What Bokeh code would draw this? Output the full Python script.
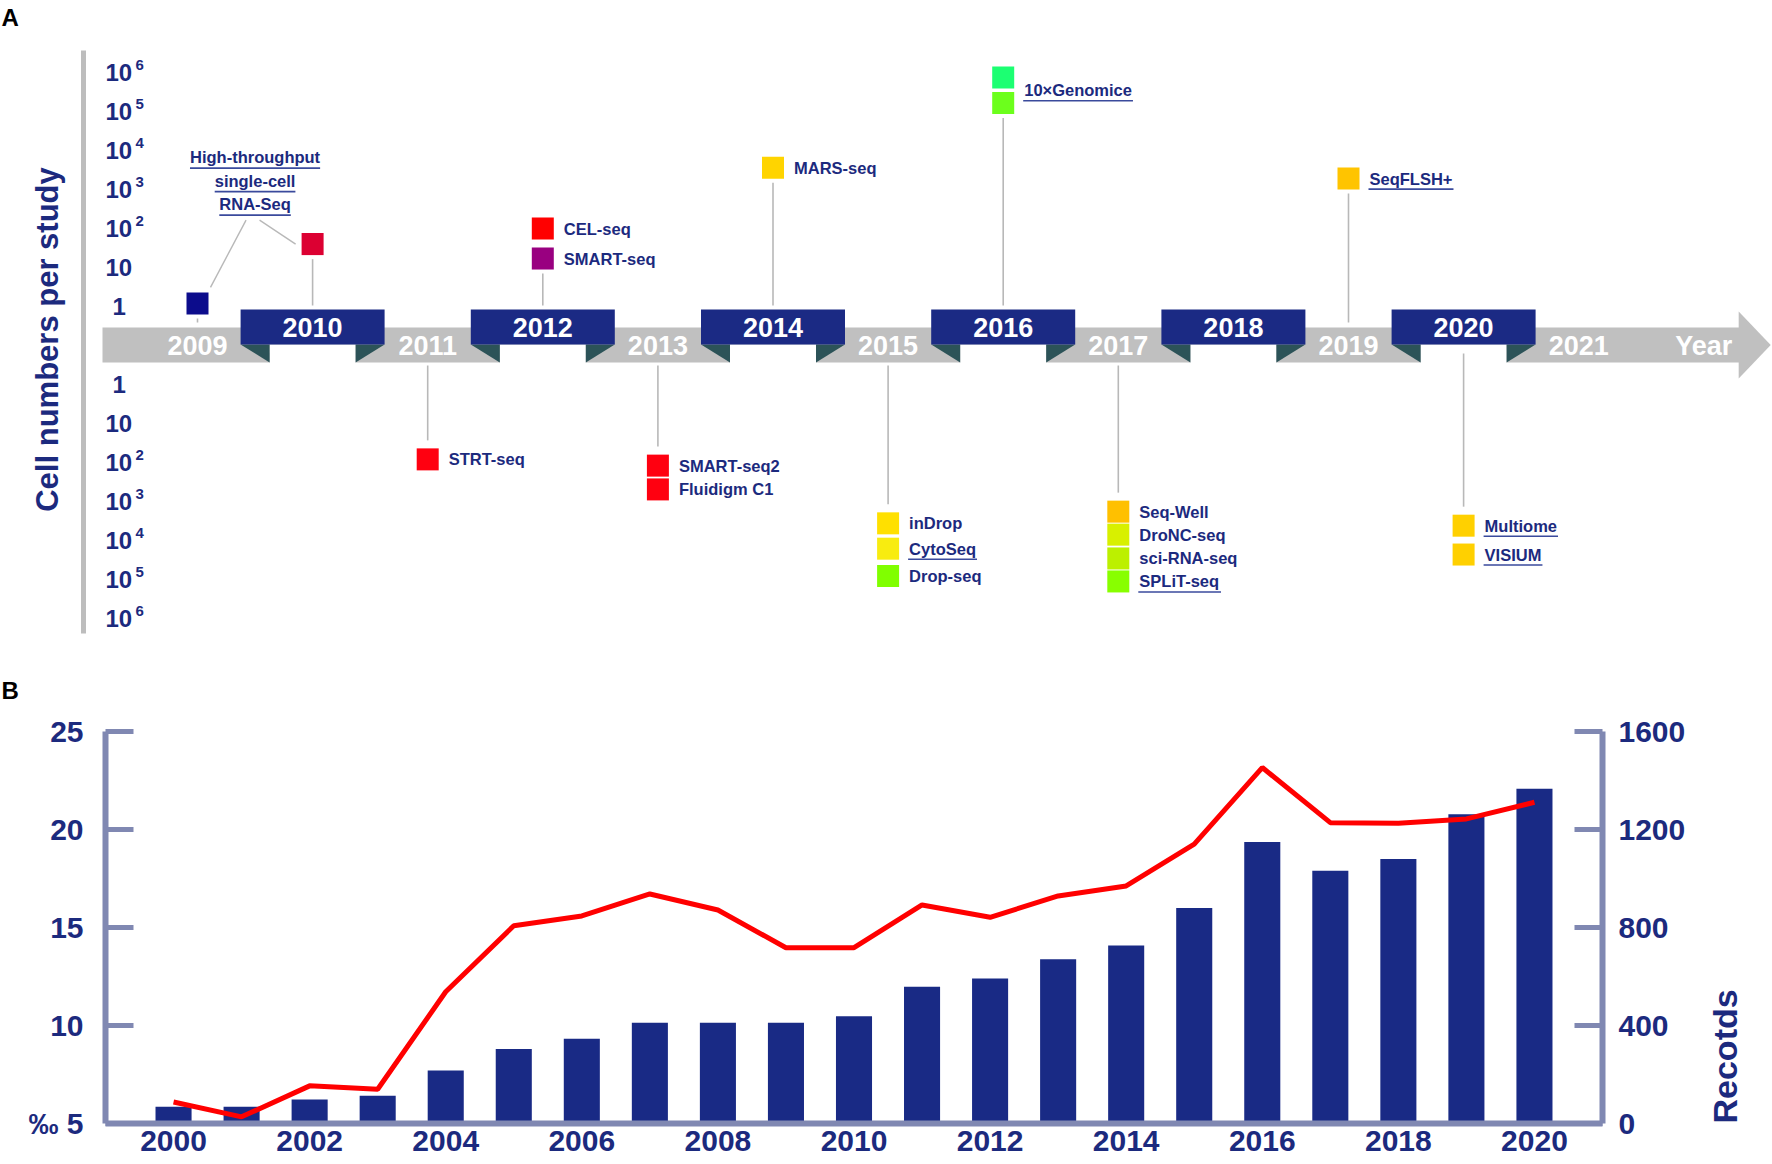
import math
from bokeh.plotting import figure
from bokeh.models import Range1d, LinearAxis, FixedTicker
from bokeh.embed import file_html
from bokeh.resources import INLINE
from bokeh.core.properties import value

# ---------------- Panel A data ----------------
timeline_years = [2009, 2010, 2011, 2012, 2013, 2014, 2015, 2016, 2017, 2018, 2019, 2020, 2021]
ribbon_years = [2010, 2012, 2014, 2016, 2018, 2020]
band_years = [2009, 2011, 2013, 2015, 2017, 2019, 2021]

method_year = [2009, 2010, 2012, 2012, 2014, 2016, 2016, 2019,
               2011, 2013, 2013, 2015, 2015, 2015, 2017, 2017, 2017, 2017, 2020, 2020]
method_side = [1, 1, 1, 1, 1, 1, 1, 1,
               -1, -1, -1, -1, -1, -1, -1, -1, -1, -1, -1, -1]
method_log_cells = [0.08, 1.6, 2.0, 1.23, 3.56, 5.87, 5.22, 3.28,
                    1.92, 2.08, 2.69, 3.56, 4.21, 4.91, 3.26, 3.85, 4.46, 5.05, 3.62, 4.36]
method_name = ["", "", "CEL-seq", "SMART-seq", "MARS-seq", "10×Genomice", "10×Genomice", "SeqFLSH+",
               "STRT-seq", "SMART-seq2", "Fluidigm C1", "inDrop", "CytoSeq", "Drop-seq",
               "Seq-Well", "DroNC-seq", "sci-RNA-seq", "SPLiT-seq", "Multiome", "VISIUM"]
method_underlined = [False, False, False, False, False, True, True, True,
                     False, False, False, False, True, False, False, False, False, True, True, True]
method_color = ["#0c0c8c", "#dc0032", "#ff0000", "#990080", "#ffd400", "#1cff72", "#6cff1c", "#ffc400",
                "#ff0010", "#ff0010", "#ff0010", "#ffe000", "#f8ec10", "#80ff00",
                "#ffc000", "#d8f000", "#bcf000", "#88ff00", "#ffd000", "#ffd000"]
callout_lines = ["High-throughput", "single-cell", "RNA-Seq"]
decade_ticks = [0, 1, 2, 3, 4, 5, 6]

# ---------------- Panel B data ----------------
year_b = [2000, 2001, 2002, 2003, 2004, 2005, 2006, 2007, 2008, 2009, 2010,
          2011, 2012, 2013, 2014, 2015, 2016, 2017, 2018, 2019, 2020]
records = [68, 68, 98, 113, 216, 304, 346, 411, 411, 411, 438,
           558, 592, 670, 727, 880, 1149, 1032, 1080, 1262, 1366]
permille = [6.1, 5.34, 6.92, 6.75, 11.72, 15.09, 15.59, 16.71, 15.89, 13.97, 13.97,
            16.15, 15.52, 16.61, 17.12, 19.25, 23.16, 20.35, 20.32, 20.54, 21.39]
b_year_ticks = [2000, 2002, 2004, 2006, 2008, 2010, 2012, 2014, 2016, 2018, 2020]
left_ticks = [5, 10, 15, 20, 25]
right_ticks = [0, 400, 800, 1200, 1600]
right_title = "Recotds"

# ---------------- styles ----------------
FONT = "Liberation Sans"
NAVY = "#1c2a7e"
RIBBON = "#1b2a84"
FOLD = "#2c5358"
BAND = "#c0c0c0"
STEM = "#b8b8b8"
AXIS_C = "#8088b2"
ULINE = "#3a4a9c"

AW = {'A': .722, 'B': .722, 'C': .722, 'D': .722, 'E': .667, 'F': .611, 'G': .778, 'H': .722, 'I': .278,
      'J': .556, 'K': .722, 'L': .611, 'M': .833, 'N': .722, 'O': .778, 'P': .667, 'Q': .778, 'R': .722,
      'S': .667, 'T': .611, 'U': .722, 'V': .667, 'W': .944, 'X': .667, 'Y': .667, 'Z': .611,
      'a': .556, 'b': .611, 'c': .556, 'd': .611, 'e': .556, 'f': .333, 'g': .611, 'h': .611, 'i': .278,
      'j': .278, 'k': .556, 'l': .278, 'm': .889, 'n': .611, 'o': .611, 'p': .611, 'q': .611, 'r': .389,
      's': .556, 't': .333, 'u': .611, 'v': .556, 'w': .778, 'x': .556, 'y': .556, 'z': .5,
      '-': .333, '+': .584, '×': .584, ' ': .278}


def text_width(s, size):
    return sum(AW.get(c, .556) for c in s) * size


FIG_W = 1772
HA = 712
HB = 452

# ---------------- Panel A ----------------
PX_YEAR = 115.1
PX_DEC = 39.0
ORIGIN_X = 197.0   # pixel column of the first timeline year
AXIS_Y = 345.0     # pixel row of the timeline centre
x_start = timeline_years[0] - ORIGIN_X / PX_YEAR
x_end = x_start + FIG_W / PX_YEAR
y_top = AXIS_Y / PX_DEC
y_bot = y_top - HA / PX_DEC


def hx(px):
    return px / PX_YEAR


def vy(px):
    return px / PX_DEC


pA = figure(width=FIG_W, height=HA, x_range=Range1d(x_start, x_end), y_range=Range1d(y_bot, y_top),
            output_backend="svg", toolbar_location=None, x_axis_location=None, y_axis_location=None,
            min_border=0, outline_line_color=None, background_fill_color="white")
pA.xgrid.visible = False
pA.ygrid.visible = False

# left vertical gray bar
pA.segment(x0=[x_start + hx(83)], y0=[vy(295)], x1=[x_start + hx(83)], y1=[-vy(288)],
           line_color="#bdbdbd", line_width=5)

# timeline band + arrow head
band_left = timeline_years[0] - hx(95)
band_right = timeline_years[-1] + hx(162)
pA.quad(left=[band_left], right=[band_right], top=[vy(18)], bottom=[-vy(17)], fill_color=BAND, line_color=None)
pA.patch(x=[band_right - hx(2), band_right + hx(30), band_right - hx(2)],
         y=[vy(34), vy(0.5), -vy(33)], fill_color=BAND, line_color=None)

# ribbons
pA.quad(left=[y - hx(43) for y in ribbon_years], right=[y + hx(43) for y in ribbon_years],
        top=[vy(1)] * len(ribbon_years), bottom=[-vy(18)] * len(ribbon_years),
        fill_color="white", line_color=None)
fold_xs, fold_ys = [], []
for y in ribbon_years:
    fold_xs.append([y - hx(72), y - hx(43), y - hx(43)])
    fold_ys.append([vy(1), vy(1), -vy(17)])
    fold_xs.append([y + hx(72), y + hx(43), y + hx(43)])
    fold_ys.append([vy(1), vy(1), -vy(17)])
pA.patches(xs=fold_xs, ys=fold_ys, fill_color=FOLD, line_color=None)
pA.quad(left=[y - hx(72) for y in ribbon_years], right=[y + hx(72) for y in ribbon_years],
        top=[vy(36)] * len(ribbon_years), bottom=[vy(1)] * len(ribbon_years),
        fill_color=RIBBON, line_color=None)
pA.text(x=ribbon_years, y=[vy(18.5)] * len(ribbon_years), text=[str(y) for y in ribbon_years],
        text_font=value(FONT), text_font_style="bold", text_font_size="27px", text_color="white",
        text_align="center", text_baseline="middle")
pA.text(x=band_years, y=[vy(0)] * len(band_years), text=[str(y) for y in band_years],
        text_font=value(FONT), text_font_style="bold", text_font_size="27px", text_color="#ffffff",
        text_align="center", text_baseline="middle")
pA.text(x=[timeline_years[-1] + hx(125)], y=[vy(0)], text=["Year"],
        text_font=value(FONT), text_font_style="bold", text_font_size="27px", text_color="#ffffff",
        text_align="center", text_baseline="middle")

# method values in plot units (decades above / below the timeline)
mv = [s * (l + 1) for s, l in zip(method_side, method_log_cells)]

# stems
groups = {}
for yr, sd, v in zip(method_year, method_side, mv):
    groups.setdefault((yr, sd), []).append(v)
sx0, sy0, sx1, sy1 = [], [], [], []
for (yr, sd), vals in groups.items():
    if sd > 0:
        start = min(vals) - vy(15)
        end = vy(40) if yr in ribbon_years else vy(23)
    else:
        start = max(vals) + vy(19)
        end = -vy(8) if yr in ribbon_years else -vy(20)
    sx0.append(yr); sx1.append(yr); sy0.append(start); sy1.append(end)
pA.segment(x0=sx0, y0=sy0, x1=sx1, y1=sy1, line_color=STEM, line_width=1.6)

# callout shared by the first two (unlabelled) methods
c_years = [yr for yr, n in zip(method_year, method_name) if n == ""]
c_vals = [v for v, n in zip(mv, method_name) if n == ""]
cx = sum(c_years) / len(c_years)
cbase = max(c_vals) + vy(40)
blue_i = method_name.index("")
red_i = blue_i + 1
pA.segment(x0=[method_year[blue_i] + hx(13), cx + hx(4.5)],
           y0=[mv[blue_i] + vy(16), cbase - vy(16)],
           x1=[cx - hx(9), method_year[red_i] - hx(17)],
           y1=[cbase - vy(16), mv[red_i]],
           line_color=STEM, line_width=1.4)
c_y = [cbase + vy(23.5) * (len(callout_lines) - 1 - i) for i in range(len(callout_lines))]
pA.text(x=[cx] * len(callout_lines), y=c_y, text=callout_lines,
        text_font=value(FONT), text_font_style="bold", text_font_size="16.5px", text_color=NAVY,
        text_align="center", text_baseline="middle")
pA.segment(x0=[cx - hx(text_width(t, 16.5) / 2) for t in callout_lines], y0=[y - vy(11) for y in c_y],
           x1=[cx + hx(text_width(t, 16.5) / 2) for t in callout_lines], y1=[y - vy(11) for y in c_y],
           line_color=ULINE, line_width=1.6)

# squares
pA.rect(x=method_year, y=mv, width=22, height=22, width_units="screen", height_units="screen",
        fill_color=method_color, line_color=None)

# method labels
lab = {}
for yr, v, n, u in zip(method_year, mv, method_name, method_underlined):
    if n:
        lab.setdefault((yr, n), [[], u])[0].append(v)
lx, ly, lt, ux0, ux1, uy = [], [], [], [], [], []
for (yr, n), (vals, u) in lab.items():
    yy = sum(vals) / len(vals)
    lx.append(yr + hx(21)); ly.append(yy); lt.append(n)
    if u:
        ux0.append(yr + hx(20)); ux1.append(yr + hx(22 + text_width(n, 16.5))); uy.append(yy - vy(10.5))
pA.text(x=lx, y=ly, text=lt, text_font=value(FONT), text_font_style="bold", text_font_size="16.5px",
        text_color=NAVY, text_align="left", text_baseline="middle")
pA.segment(x0=ux0, y0=uy, x1=ux1, y1=uy, line_color=ULINE, line_width=1.6)

# tick labels of panel A (cells per study, both sides of the timeline)
tx, ty, tt, ex, ey, et = [], [], [], [], [], []
for side in (1, -1):
    for k in decade_ticks:
        v = side * (k + 1)
        if k == 0:
            tx.append(x_start + hx(112)); tt.append("1")
        else:
            tx.append(x_start + hx(105)); tt.append("10")
        ty.append(v)
        if k >= 2:
            ex.append(x_start + hx(135)); ey.append(v + vy(7.5)); et.append(str(k))
pA.text(x=tx, y=ty, text=tt, text_font=value(FONT), text_font_style="bold", text_font_size="24px",
        text_color=NAVY, text_align="left", text_baseline="middle")
pA.text(x=ex, y=ey, text=et, text_font=value(FONT), text_font_style="bold", text_font_size="15px",
        text_color=NAVY, text_align="left", text_baseline="middle")
pA.text(x=[x_start + hx(47)], y=[vy(6)], text=["Cell numbers per study"], angle=math.pi / 2,
        text_font=value(FONT), text_font_style="bold", text_font_size="31px", text_color=NAVY,
        text_align="center", text_baseline="middle")
pA.text(x=[x_start + hx(1), x_start + hx(1)], y=[y_top - vy(17), y_top - vy(690)], text=["A", "B"],
        text_font=value(FONT), text_font_style="bold", text_font_size="24px", text_color="black",
        text_align="left", text_baseline="middle")

# ---------------- Panel B ----------------
pB = figure(width=FIG_W, height=HB, x_range=Range1d(1999.0, 2021.0), y_range=Range1d(5, 25),
            output_backend="svg", toolbar_location=None, min_border_left=105, min_border_right=170,
            min_border_top=19, min_border_bottom=41, outline_line_color=None, background_fill_color="white")
pB.extra_y_ranges = {"rec": Range1d(0, 1600)}
pB.xgrid.visible = False
pB.ygrid.visible = False

pB.vbar(x=year_b, top=records, bottom=0, width=0.53, y_range_name="rec", fill_color="#192a85", line_color=None)
pB.line(x=year_b, y=permille, line_color="#ff0000", line_width=5)

raxis = LinearAxis(y_range_name="rec", ticker=FixedTicker(ticks=right_ticks))
pB.add_layout(raxis, "right")

pB.xaxis.ticker = FixedTicker(ticks=b_year_ticks)
pB.yaxis[0].ticker = FixedTicker(ticks=left_ticks)
pB.yaxis[0].major_label_overrides = {5: "‰ 5"}
for ax in [pB.xaxis[0], pB.yaxis[0], raxis]:
    ax.axis_line_color = AXIS_C
    ax.axis_line_width = 6
    ax.major_tick_line_color = AXIS_C
    ax.major_tick_line_width = 5
    ax.major_tick_in = 28
    ax.major_tick_out = 0
    ax.minor_tick_line_color = None
    ax.major_label_text_font = FONT
    ax.major_label_text_font_style = "bold"
    ax.major_label_text_font_size = "30px"
    ax.major_label_text_color = NAVY
pB.xaxis[0].major_tick_in = 0
pB.xaxis[0].major_label_standoff = 7
pB.yaxis[0].major_label_standoff = 22
raxis.major_label_standoff = 16

# title of the right axis, as a rotated single label of an extra right axis
title_pos = right_ticks[0]
taxis = LinearAxis(y_range_name="rec", ticker=FixedTicker(ticks=[title_pos]),
                   major_label_overrides={title_pos: right_title})
taxis.axis_line_color = None
taxis.major_tick_line_color = None
taxis.minor_tick_line_color = None
taxis.major_tick_out = 0
taxis.minor_tick_out = 0
taxis.major_label_orientation = math.pi / 2
taxis.major_label_standoff = 36
taxis.major_label_text_font = FONT
taxis.major_label_text_font_style = "bold"
taxis.major_label_text_font_size = "34px"
taxis.major_label_text_color = NAVY
pB.add_layout(taxis, "right")

open("out.html", "w").write(file_html([pA, pB], INLINE))
